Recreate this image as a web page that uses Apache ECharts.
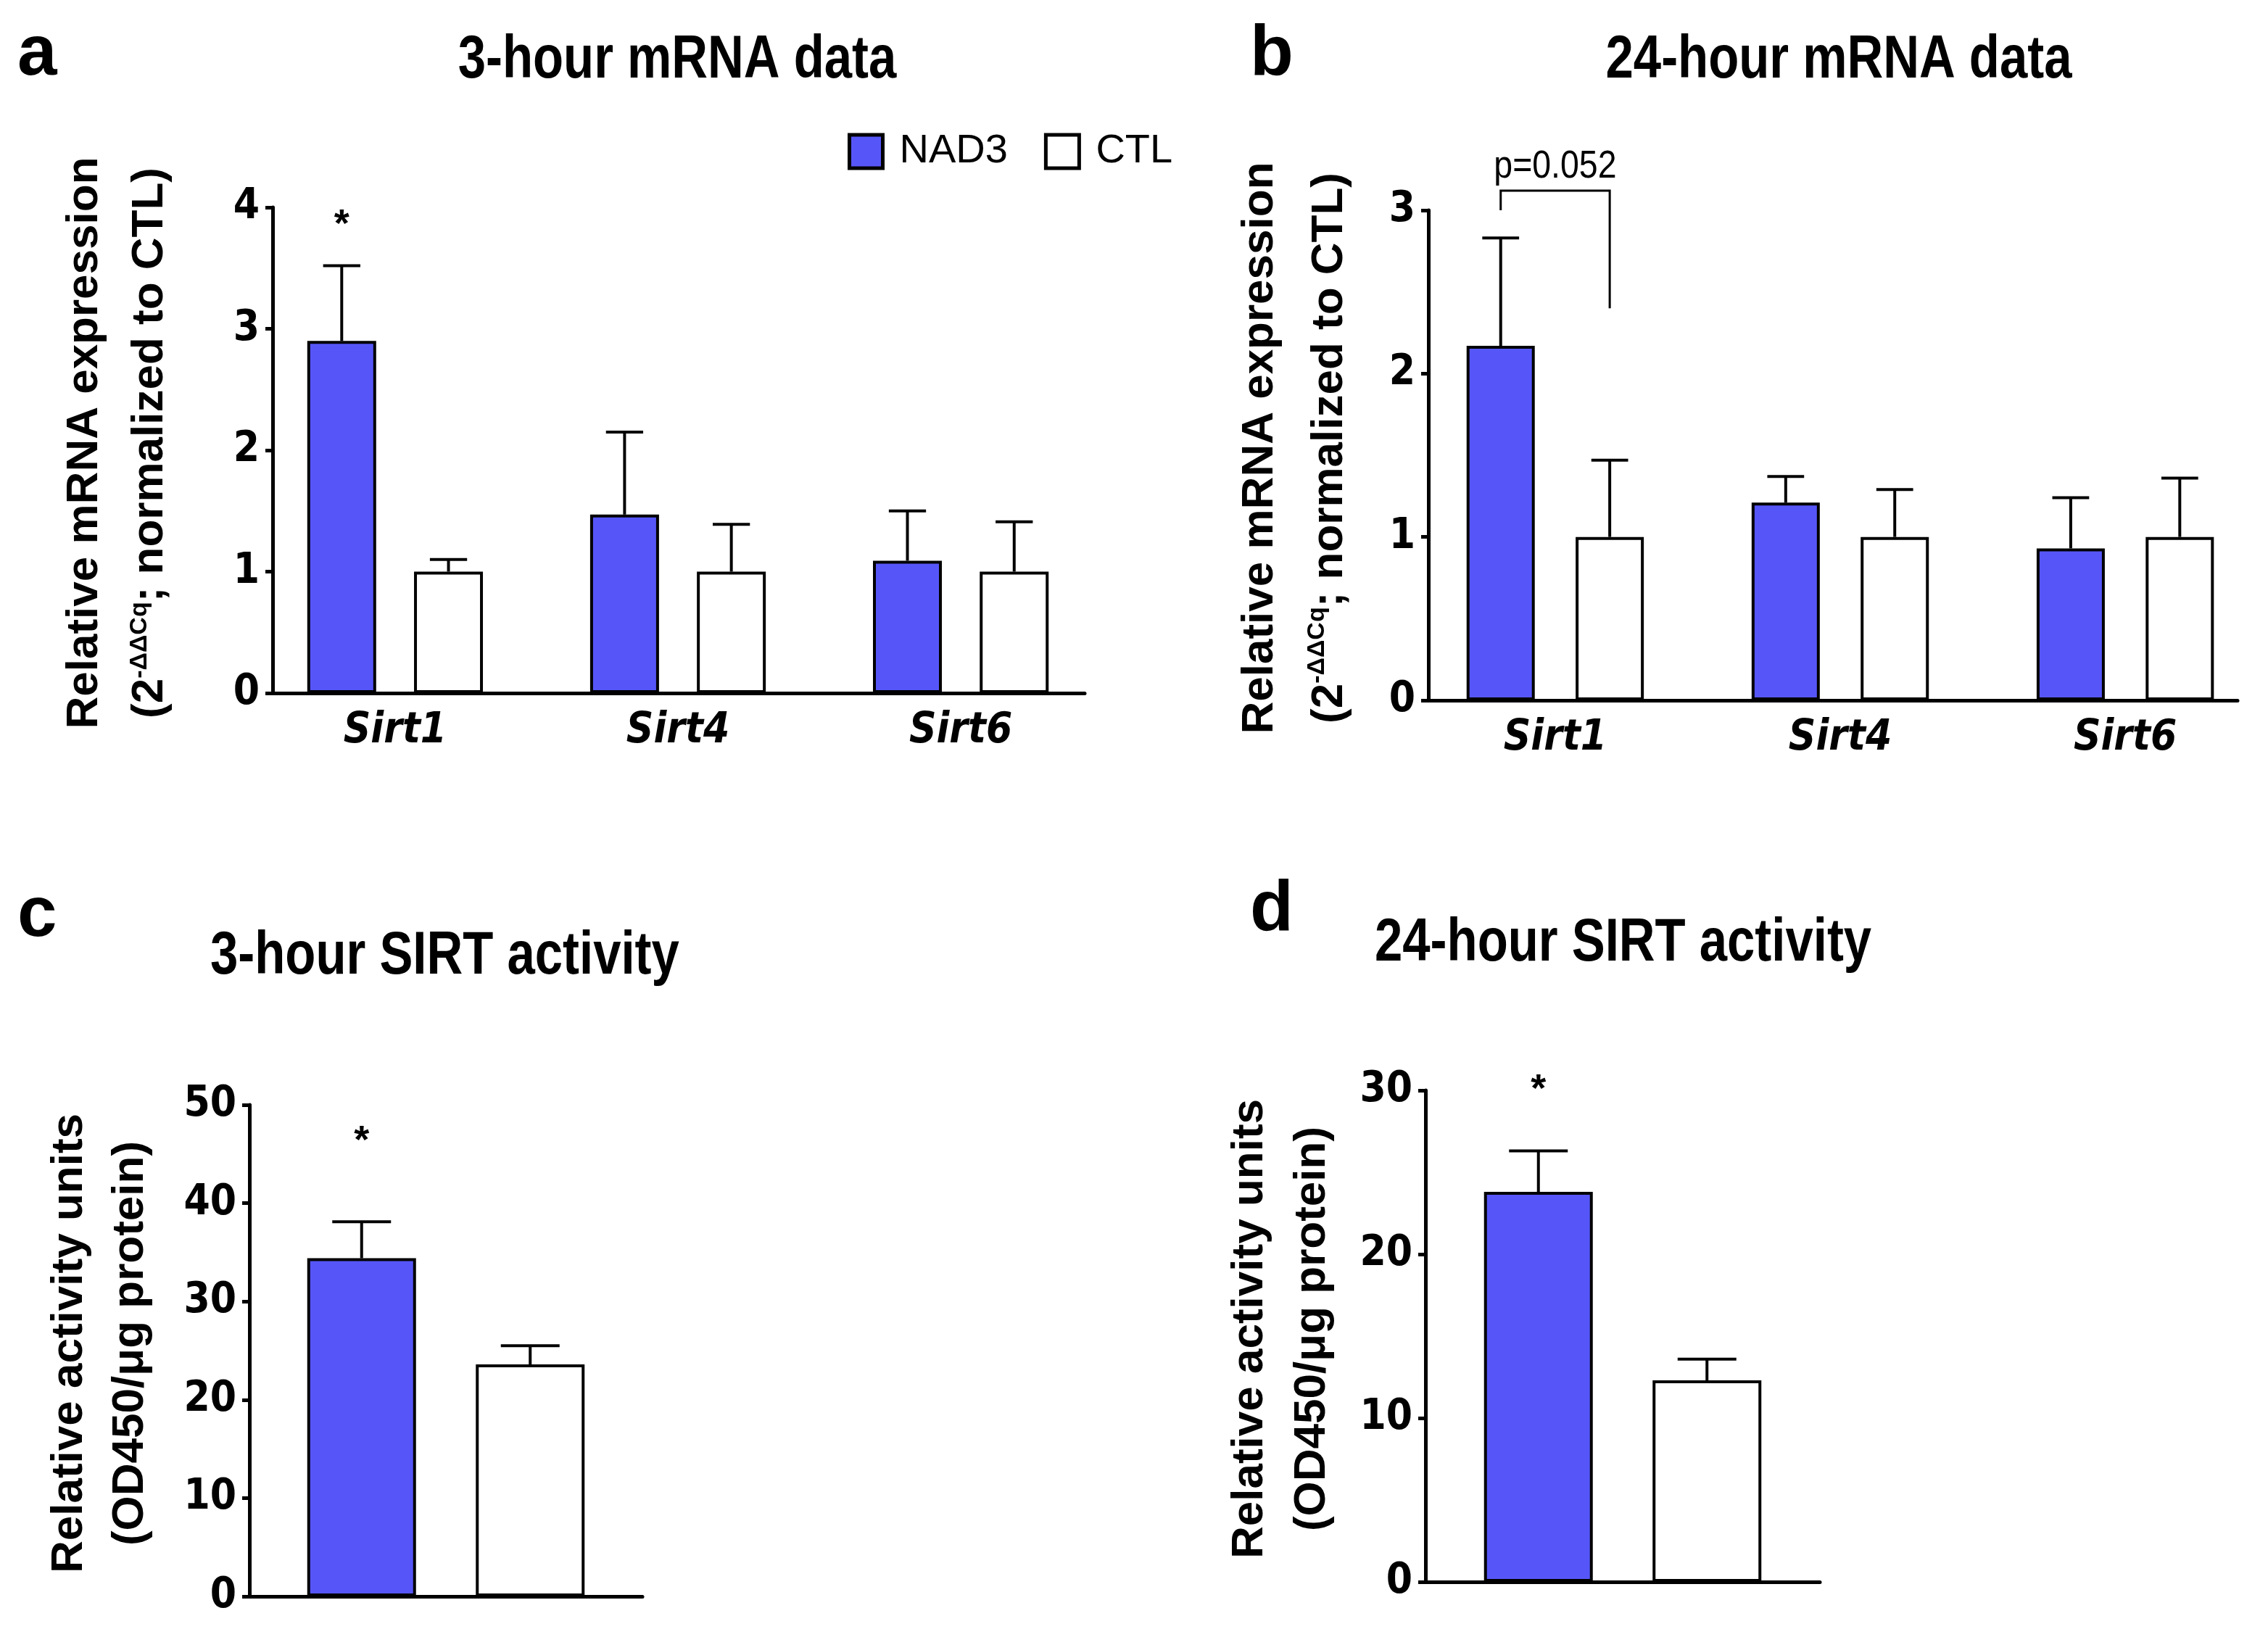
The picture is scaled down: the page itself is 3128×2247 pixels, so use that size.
<!DOCTYPE html>
<html>
<head>
<meta charset="utf-8">
<script src="https://cdn.jsdelivr.net/npm/echarts@6/dist/echarts.min.js"></script>
<style>
  html, body { margin: 0; background: #fff; }
  #chart { width: 3128px; height: 2247px; }
</style>
</head>
<body>
<div id="chart"></div>
<script>
// genes on the mRNA panels
const genes = ["Sirt1", "Sirt4", "Sirt6"];

// a: 3-hour mRNA (mean, SEM)
const mrna3hNad3 = [2.90, 1.47, 1.09];
const mrna3hNad3Sem = [0.62, 0.68, 0.41];
const mrna3hCtl = [1.00, 1.00, 1.00];
const mrna3hCtlSem = [0.10, 0.39, 0.41];
const mrna3hStar = [3.85, null, null];

// b: 24-hour mRNA
const mrna24hNad3 = [2.17, 1.21, 0.93];
const mrna24hNad3Sem = [0.66, 0.16, 0.31];
const mrna24hCtl = [1.00, 1.00, 1.00];
const mrna24hCtlSem = [0.47, 0.29, 0.36];
// bracket over Sirt1: left leg end, top, right leg end
const bracketLevels = [3.0, 3.12, 2.40];
const bracketText = "p=0.052";

// c: 3-hour SIRT activity
const act3hNad3 = [34.4];
const act3hNad3Sem = [3.7];
const act3hCtl = [23.6];
const act3hCtlSem = [1.9];
const act3hStar = [46.2];

// d: 24-hour SIRT activity
const act24hNad3 = [23.8];
const act24hNad3Sem = [2.5];
const act24hCtl = [12.3];
const act24hCtlSem = [1.3];
const act24hStar = [30.0];

const yTicksA = [0, 4, 1];
const yTicksB = [0, 3, 1];
const yTicksC = [0, 50, 10];
const yTicksD = [0, 30, 10];

const BLUE = "#5656F8";
const COND = "'DejaVu Sans Condensed', 'Liberation Sans Narrow', sans-serif";
const SANS = "'Liberation Sans', Arial, sans-serif";

// panel layout: grid box, x range, bar width, gap ratio, y-name gap and line height
const panels = [
  { left: 376, top: 286, width: 1120, height: 670, xr: [-0.433, 2.438], bw: 95, gap: 0.55, nameGap: 124, lh: 90 },
  { left: 1970, top: 290, width: 1116, height: 676, xr: [-0.445, 2.394], bw: 94, gap: 0.60, nameGap: 88, lh: 96 },
  { left: 344, top: 1524, width: 542, height: 678, xr: [-0.5, 0.5], bw: 150, gap: 0.55, nameGap: 122, lh: 84 },
  { left: 1966, top: 1504, width: 544, height: 678, xr: [-0.5, 0.5], bw: 150, gap: 0.55, nameGap: 113, lh: 86 },
];

const mrnaName = "{t|Relative mRNA expression}\n{t|(2}{s|-ΔΔCq}{t|; normalized to CTL)}";
const actName = "{t|Relative activity units}\n{t|(OD450/μg protein)}";

function yAxisFor(i, ticks, name) {
  const p = panels[i];
  return {
    gridIndex: i, type: "value", min: ticks[0], max: ticks[1], interval: ticks[2],
    axisLine: { show: true, onZero: false, lineStyle: { color: "#000", width: 5 } },
    axisTick: { show: true, length: 10, lineStyle: { color: "#000", width: 5 } },
    splitLine: { show: false },
    axisLabel: { color: "#000", fontFamily: COND, fontWeight: "bold", fontSize: 58, margin: 18 },
    name: name, nameLocation: "middle", nameRotate: 90, nameGap: p.nameGap,
    nameTextStyle: {
      padding: [0, 0, 0, 20],
      rich: {
        t: { fontFamily: SANS, fontWeight: "bold", fontSize: 62, color: "#000", lineHeight: p.lh },
        s: { fontFamily: SANS, fontWeight: "bold", fontSize: 34, color: "#000", lineHeight: p.lh, verticalAlign: "top", padding: [14, 0, 0, 0] },
      },
    },
  };
}

// x axis in category units, labels only at the category positions
function xAxisFor(i, cats) {
  const p = panels[i];
  return {
    gridIndex: i, type: "value", min: p.xr[0], max: p.xr[1],
    axisLine: { show: true, onZero: false, lineStyle: { color: "#000", width: 5 } },
    axisTick: { show: false },
    splitLine: { show: false },
    axisLabel: {
      customValues: cats.map((c, k) => k),
      formatter: v => cats[Math.round(v)] || "",
      color: "#000", fontFamily: COND, fontWeight: "bold", fontStyle: "italic", fontSize: 58, margin: 24,
    },
  };
}

function barSeries(i, name, data, color) {
  const p = panels[i];
  return {
    type: "bar", name: name, xAxisIndex: i, yAxisIndex: i,
    data: data.map((v, k) => [k, v]),
    barWidth: p.bw, barGap: (p.gap * 100) + "%",
    itemStyle: { color: color, borderColor: "#000", borderWidth: 4 },
    emphasis: { disabled: true }, z: 2,
  };
}

// upper error bar, side -1 for NAD3 (left) and +1 for CTL (right)
function errSeries(i, means, sems, side) {
  const p = panels[i];
  return {
    type: "custom", xAxisIndex: i, yAxisIndex: i, z: 3, silent: true,
    data: means.map((m, k) => [k, m, m + sems[k]]),
    renderItem(params, api) {
      const off = side * p.bw * (1 + p.gap) / 2;
      const b = api.coord([api.value(0), api.value(1)]);
      const t = api.coord([api.value(0), api.value(2)]);
      const x = b[0] + off, cap = p.bw * 0.27;
      const st = { stroke: "#000", lineWidth: 4 };
      return { type: "group", children: [
        { type: "line", shape: { x1: x, y1: b[1], x2: x, y2: t[1] }, style: st },
        { type: "line", shape: { x1: x - cap, y1: t[1], x2: x + cap, y2: t[1] }, style: st },
      ] };
    },
  };
}

function starSeries(i, levels) {
  const p = panels[i];
  return {
    type: "custom", xAxisIndex: i, yAxisIndex: i, z: 4, silent: true,
    data: levels.map((v, k) => [k, v]).filter(d => d[1] != null),
    renderItem(params, api) {
      const c = api.coord([api.value(0), api.value(1)]);
      return { type: "text", x: c[0] - p.bw * (1 + p.gap) / 2, y: c[1],
        style: { text: "*", fill: "#000", font: "bold 54px " + SANS, textAlign: "center", textVerticalAlign: "middle" } };
    },
  };
}

const bracketSeries = {
  type: "custom", xAxisIndex: 1, yAxisIndex: 1, z: 4, silent: true, clip: false,
  data: [[0, bracketLevels[0], bracketLevels[1], bracketLevels[2]]],
  renderItem(params, api) {
    const p = panels[1];
    const off = p.bw * (1 + p.gap) / 2;
    const cx = api.coord([api.value(0), 0])[0];
    const yl = api.coord([0, api.value(1)])[1];
    const yt = api.coord([0, api.value(2)])[1];
    const yr = api.coord([0, api.value(3)])[1];
    const xl = cx - off, xr = cx + off;
    return { type: "group", children: [
      { type: "polyline", shape: { points: [[xl, yl], [xl, yt], [xr, yt], [xr, yr]] },
        style: { stroke: "#000", lineWidth: 3, fill: null } },
      { type: "text", x: (xl + xr) / 2, y: yt - 6, scaleX: 0.86,
        style: { text: bracketText, fill: "#000", font: "54px " + SANS, textAlign: "center", textVerticalAlign: "bottom" } },
    ] };
  },
};

const texts = [
  { t: "a", x: 24, y: 76, font: "bold 98px " + SANS, align: "left", sx: 1 },
  { t: "b", x: 1724, y: 76, font: "bold 98px " + SANS, align: "left", sx: 1 },
  { t: "c", x: 24, y: 1264, font: "bold 98px " + SANS, align: "left", sx: 1 },
  { t: "d", x: 1724, y: 1256, font: "bold 98px " + SANS, align: "left", sx: 1 },
  { t: "3-hour mRNA data", x: 934, y: 84, font: "bold 84px " + SANS, align: "center", sx: 0.82 },
  { t: "24-hour mRNA data", x: 2536, y: 84, font: "bold 84px " + SANS, align: "center", sx: 0.82 },
  { t: "3-hour SIRT activity", x: 290, y: 1320, font: "bold 84px " + SANS, align: "left", sx: 0.82 },
  { t: "24-hour SIRT activity", x: 1896, y: 1302, font: "bold 84px " + SANS, align: "left", sx: 0.82 },
];

const chart = echarts.init(document.getElementById("chart"), null, { renderer: "canvas" });
chart.setOption({
  animation: false,
  backgroundColor: "#fff",
  grid: panels.map(p => ({ left: p.left, top: p.top, width: p.width, height: p.height, containLabel: false })),
  xAxis: [xAxisFor(0, genes), xAxisFor(1, genes), xAxisFor(2, [""]), xAxisFor(3, [""])],
  yAxis: [yAxisFor(0, yTicksA, mrnaName), yAxisFor(1, yTicksB, mrnaName), yAxisFor(2, yTicksC, actName), yAxisFor(3, yTicksD, actName)],
  legend: {
    data: ["NAD3", "CTL"], left: 1164, top: 176, orient: "horizontal",
    itemWidth: 46, itemHeight: 46, itemGap: 50, icon: "rect",
    itemStyle: { borderColor: "#000", borderWidth: 5 },
    textStyle: { fontFamily: SANS, fontSize: 56, color: "#000", padding: [0, 0, 0, 18] },
    selectedMode: false,
  },
  graphic: texts.map(d => ({
    type: "text", x: d.x, y: d.y, scaleX: d.sx,
    style: { text: d.t, font: d.font, fill: "#000", textAlign: d.align, textVerticalAlign: "middle" },
  })),
  series: [
    barSeries(0, "NAD3", mrna3hNad3, BLUE), barSeries(0, "CTL", mrna3hCtl, "#fff"),
    errSeries(0, mrna3hNad3, mrna3hNad3Sem, -1), errSeries(0, mrna3hCtl, mrna3hCtlSem, 1),
    starSeries(0, mrna3hStar),
    barSeries(1, "NAD3", mrna24hNad3, BLUE), barSeries(1, "CTL", mrna24hCtl, "#fff"),
    errSeries(1, mrna24hNad3, mrna24hNad3Sem, -1), errSeries(1, mrna24hCtl, mrna24hCtlSem, 1),
    bracketSeries,
    barSeries(2, "NAD3", act3hNad3, BLUE), barSeries(2, "CTL", act3hCtl, "#fff"),
    errSeries(2, act3hNad3, act3hNad3Sem, -1), errSeries(2, act3hCtl, act3hCtlSem, 1),
    starSeries(2, act3hStar),
    barSeries(3, "NAD3", act24hNad3, BLUE), barSeries(3, "CTL", act24hCtl, "#fff"),
    errSeries(3, act24hNad3, act24hNad3Sem, -1), errSeries(3, act24hCtl, act24hCtlSem, 1),
    starSeries(3, act24hStar),
  ],
});
</script>
</body>
</html>
